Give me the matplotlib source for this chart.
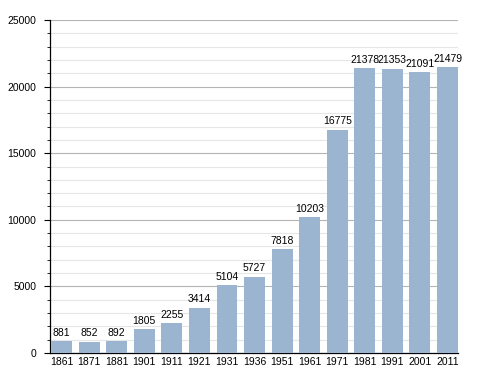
import matplotlib
matplotlib.use('Agg')
import matplotlib.pyplot as plt
from matplotlib.ticker import MultipleLocator

years = ['1861', '1871', '1881', '1901', '1911', '1921', '1931', '1936',
         '1951', '1961', '1971', '1981', '1991', '2001', '2011']
population = [881, 852, 892, 1805, 2255, 3414, 5104, 5727,
              7818, 10203, 16775, 21378, 21353, 21091, 21479]

plt.rcParams['font.family'] = ['Liberation Sans', 'DejaVu Sans']

fig = plt.figure(figsize=(4.88, 3.73), dpi=100)
ax = fig.add_axes([0.1025, 0.0536, 0.836, 0.8928])

x = range(len(years))
ax.bar(x, population, width=0.76, color='#9bb4cf', zorder=3)
for i, v in zip(x, population):
    ax.text(i, v + 250, str(v), ha='center', va='bottom', fontsize=7.5, zorder=4)

ax.set_xlim(-0.42, 14.38)
ax.set_ylim(0, 25000)
ax.yaxis.set_major_locator(MultipleLocator(5000))
ax.yaxis.set_minor_locator(MultipleLocator(1000))
ax.grid(which='major', axis='y', color='#b4b4b4', linewidth=0.8, zorder=0)
ax.grid(which='minor', axis='y', color='#e6e6e6', linewidth=0.8, zorder=0)
ax.set_xticks(list(x))
ax.set_xticklabels(years)
ax.tick_params(axis='x', length=0, labelsize=7.5, pad=3)
ax.tick_params(axis='y', which='major', length=4, labelsize=7.5, pad=6)
ax.tick_params(axis='y', which='minor', length=2)
ax.spines['top'].set_visible(False)
ax.spines['right'].set_visible(False)
ax.spines['left'].set_linewidth(0.9)
ax.spines['bottom'].set_linewidth(0.9)

fig.savefig('out.png', dpi=100)
